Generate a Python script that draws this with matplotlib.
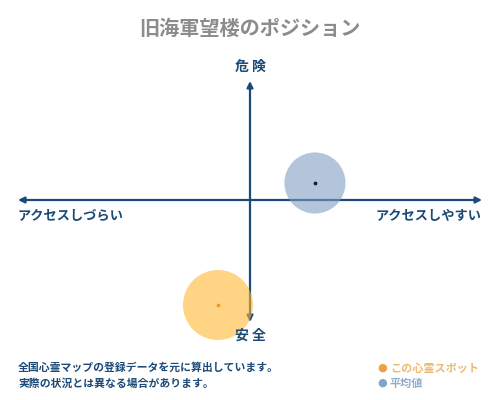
import matplotlib
matplotlib.use("Agg")
import matplotlib.pyplot as plt

plt.rcParams['font.family'] = ['Noto Sans CJK JP', 'DejaVu Sans']

title = '旧海軍望楼のポジション'
axis_top = '危 険'
axis_bottom = '安 全'
axis_left = 'アクセスしづらい'
axis_right = 'アクセスしやすい'
notes = ['全国心霊マップの登録データを元に算出しています。',
         '実際の状況とは異なる場合があります。']

series_names = ['この心霊スポット', '平均値']
access = [-0.138, 0.28]    # x: しづらい(-1) .. しやすい(+1)
danger = [-0.84, 0.136]    # y: 安全(-1) .. 危険(+1)
spread = [2540, 1936]      # bubble size

fill_colors = ['#FFB833', '#7F9FC4']
dot_colors = ['#F39C12', '#1a1a2e']
legend_dot = ['#F0A040', '#7FA6C8']
legend_text = ['#F0B870', '#8FAECB']
navy = '#1B4A78'

W, H = 500, 400
fig = plt.figure(figsize=(5, 4), dpi=100)

def px(x, y):
    return x / W, 1 - y / H

ax = fig.add_axes([18 / W, 75 / H, 464 / W, 250 / H])
ax.set_xlim(-1, 1)
ax.set_ylim(-1, 1)
ax.axis('off')

arrow = dict(arrowstyle='<|-|>', color=navy, lw=1.6, mutation_scale=9,
             shrinkA=0, shrinkB=0)
ax.annotate('', xy=(1, 0), xytext=(-1, 0), arrowprops=arrow, zorder=1)
ax.annotate('', xy=(0, 0.952), xytext=(0, -0.976), arrowprops=arrow, zorder=1)

for i in range(len(series_names)):
    ax.scatter(access[i], danger[i], s=spread[i], color=fill_colors[i],
               alpha=0.6, edgecolors='none', zorder=2, clip_on=False)
    ax.scatter(access[i], danger[i], s=3, color=dot_colors[i], zorder=3,
               clip_on=False)

fig.text(*px(250, 28), title, ha='center', va='center', fontsize=14.5,
         fontweight='bold', color='#8c8c8c')
fig.text(*px(250, 67), axis_top, ha='center', va='center', fontsize=10,
         fontweight='bold', color=navy)
fig.text(*px(250, 336), axis_bottom, ha='center', va='center', fontsize=10,
         fontweight='bold', color=navy)
fig.text(*px(18, 216), axis_left, ha='left', va='center', fontsize=9.5,
         fontweight='bold', color=navy)
fig.text(*px(482, 216), axis_right, ha='right', va='center', fontsize=9.5,
         fontweight='bold', color=navy)

for k, line in enumerate(notes):
    fig.text(*px(18, 368 + 16 * k), line, ha='left', va='center',
             fontsize=7.8, fontweight='bold', color=navy)

for k, name in enumerate(series_names):
    y = 368 + 15 * k
    fig.text(*px(382, y), '●', ha='center', va='center', fontsize=8,
             color=legend_dot[k], family=['DejaVu Sans'])
    fig.text(*px(390, y), name, ha='left', va='center', fontsize=8,
             fontweight='bold', color=legend_text[k])

fig.savefig('out.png', dpi=100)
